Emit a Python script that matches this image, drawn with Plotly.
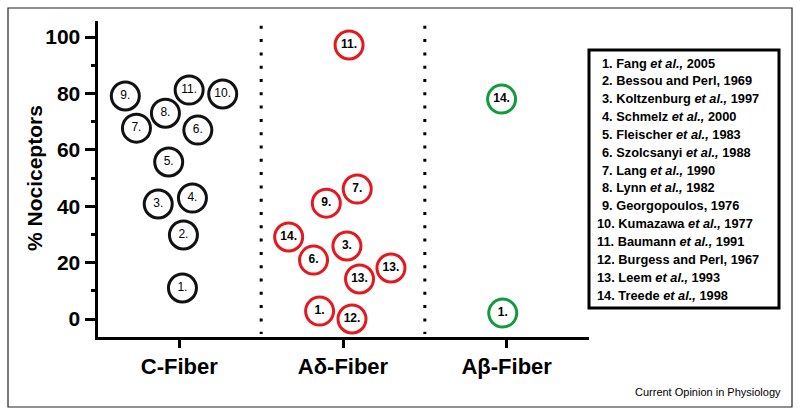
import plotly.graph_objects as go

W, H = 800, 415

categories = ["C-Fiber", "A\u03b4-Fiber", "A\u03b2-Fiber"]
y_ticks = [0, 20, 40, 60, 80, 100]

# C-Fiber studies
c_refs = [9, 11, 10, 8, 7, 6, 5, 3, 4, 2, 1]
c_jitter = [-0.33, 0.06, 0.265, -0.085, -0.262, 0.113, -0.065, -0.129, 0.08, 0.025, 0.019]
c_vals = [79.1, 81.2, 79.8, 73.0, 67.7, 67.0, 55.7, 40.8, 42.9, 29.8, 11.0]

# A-delta studies
ad_refs = [11, 7, 9, 14, 3, 6, 13, 13, 1, 12]
ad_jitter = [0.037, 0.087, -0.102, -0.332, 0.024, -0.18, 0.293, 0.101, -0.143, 0.055]
ad_vals = [97.2, 46.1, 41.1, 29.1, 25.9, 20.9, 18.1, 14.2, 2.8, 0.0]

# A-beta studies
ab_refs = [14, 1]
ab_jitter = [-0.031, -0.024]
ab_vals = [78.0, 2.1]

references = [
    "Fang <i>et al.,</i> 2005",
    "Bessou and Perl, 1969",
    "Koltzenburg <i>et al.,</i> 1997",
    "Schmelz <i>et al.,</i> 2000",
    "Fleischer <i>et al.,</i> 1983",
    "Szolcsanyi <i>et al.,</i> 1988",
    "Lang <i>et al.,</i> 1990",
    "Lynn <i>et al.,</i> 1982",
    "Georgopoulos, 1976",
    "Kumazawa <i>et al.,</i> 1977",
    "Baumann <i>et al.,</i> 1991",
    "Burgess and Perl, 1967",
    "Leem <i>et al.,</i> 1993",
    "Treede <i>et al.,</i> 1998",
]

FONT = "Liberation Sans, Arial, Helvetica, sans-serif"

def px_x(p):
    return p / W

def px_y(p):
    return 1 - p / H

fig = go.Figure()

groups = [
    (0, c_refs, c_jitter, c_vals, "#111111", "normal"),
    (1, ad_refs, ad_jitter, ad_vals, "#e3191f", "bold"),
    (2, ab_refs, ab_jitter, ab_vals, "#139a3c", "bold"),
]
for idx, refs, jit, vals, col, wt in groups:
    fig.add_trace(go.Scatter(
        x=[idx + j for j in jit],
        y=vals,
        mode="markers+text",
        text=[f"{r}." for r in refs],
        textposition="middle center",
        textfont=dict(family=FONT, size=12, color="black", weight=wt),
        marker=dict(symbol="circle", size=28, color="white",
                    line=dict(color=col, width=3)),
        showlegend=False,
        hoverinfo="skip",
        cliponaxis=False,
    ))

shapes = []
# dotted separators between categories
for xs in [0.5, 1.5]:
    shapes.append(dict(type="line", xref="x", yref="y", x0=xs, x1=xs,
                       y0=104.0, y1=-5.3,
                       line=dict(color="black", width=3, dash="3px,10.3px")))
# outer frame
shapes.append(dict(type="rect", xref="paper", yref="paper",
                   x0=px_x(8), x1=px_x(792), y0=px_y(407), y1=px_y(8),
                   line=dict(color="#222222", width=1.2)))
# legend box
shapes.append(dict(type="rect", xref="paper", yref="paper",
                   x0=px_x(589), x1=px_x(779), y0=px_y(308), y1=px_y(50),
                   line=dict(color="black", width=3)))

annotations = []
for i, ref in enumerate(references):
    n = i + 1
    annotations.append(dict(
        xref="paper", yref="paper",
        x=px_x(600 if n < 10 else 595), y=px_y(63 + i * 17.85),
        xanchor="left", yanchor="middle", showarrow=False,
        text=f"{n}. {ref}",
        font=dict(family=FONT, size=12.8, color="black", weight="bold"),
    ))
annotations.append(dict(
    xref="paper", yref="paper", x=px_x(34), y=px_y(178),
    text="% Nociceptors", textangle=-90, showarrow=False,
    xanchor="center", yanchor="middle",
    font=dict(family=FONT, size=21, color="black", weight="bold"),
))
annotations.append(dict(
    xref="paper", yref="paper", x=px_x(783), y=px_y(392),
    text="Current Opinion in Physiology", showarrow=False,
    xanchor="right", yanchor="middle",
    font=dict(family=FONT, size=11, color="black"),
))

fig.update_layout(
    width=W, height=H,
    margin=dict(l=0, r=0, t=0, b=0),
    paper_bgcolor="white", plot_bgcolor="white",
    shapes=shapes, annotations=annotations,
    xaxis=dict(
        domain=[px_x(97.5), px_x(588.5)], range=[-0.5, 2.5],
        tickmode="array", tickvals=[0, 1, 2], ticktext=categories,
        ticks="outside", ticklen=8, tickwidth=3, tickcolor="black",
        showline=True, linewidth=3, linecolor="black",
        showgrid=False, zeroline=False, automargin=False,
        tickfont=dict(family=FONT, size=22, color="black", weight="bold"),
    ),
    yaxis=dict(
        domain=[px_y(337), px_y(21)], range=[-6.38, 105.7],
        tickmode="array", tickvals=y_ticks,
        ticks="outside", ticklen=10, tickwidth=3, tickcolor="black",
        minor=dict(tickmode="array", tickvals=[10, 30, 50, 70, 90],
                   ticks="outside", ticklen=4, tickwidth=3, tickcolor="black"),
        showline=True, linewidth=3, linecolor="black",
        showgrid=False, zeroline=False, automargin=False,
        tickfont=dict(family=FONT, size=21, color="black", weight="bold"),
    ),
)

fig.write_html(
    "out.html",
    config={"displayModeBar": False},
    post_script="document.body.style.margin='0';document.body.style.overflow='hidden';",
)
